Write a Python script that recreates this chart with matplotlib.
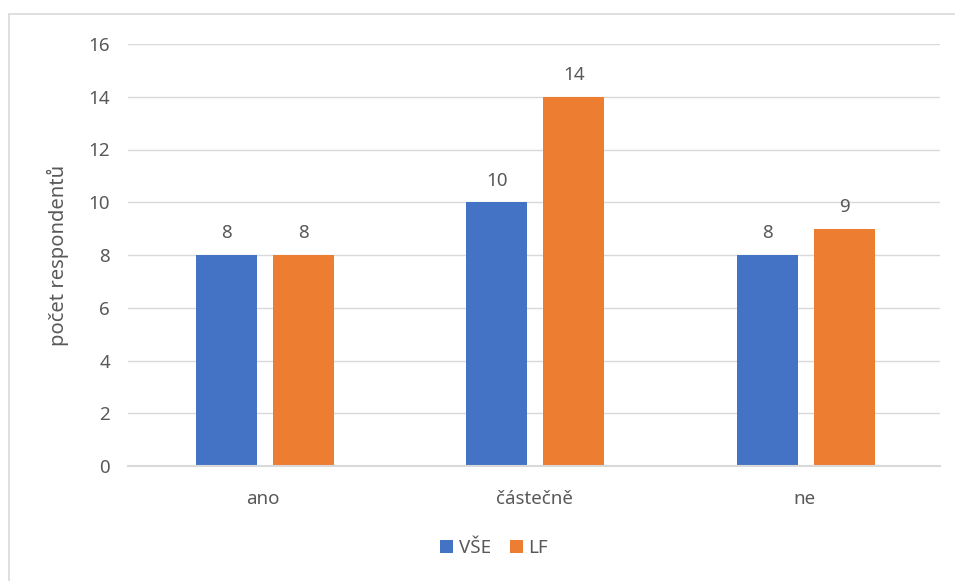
import matplotlib

matplotlib.use("Agg")
import matplotlib.pyplot as plt
import numpy as np
from matplotlib.patches import Rectangle

categories = ["ano", "částečně", "ne"]
series_names = ["VŠE", "LF"]
vse_values = [8, 10, 8]
lf_values = [8, 14, 9]
y_ticks = [0, 2, 4, 6, 8, 10, 12, 14, 16]

BLUE = "#4472C4"
ORANGE = "#ED7D31"
TEXT = "#595959"
GRID = "#D9D9D9"
FS = 13.5

plt.rcParams["font.family"] = ["Noto Sans", "DejaVu Sans"]

fig = plt.figure(figsize=(9.55, 5.81), dpi=100)
fig.patches.append(
    Rectangle((9 / 955, -0.05), 1.1, 1 - 14 / 581 + 0.05, transform=fig.transFigure,
              fill=False, edgecolor="#D9D9D9", linewidth=1.2, zorder=0)
)
ax = fig.add_axes([128 / 955, 115 / 581, 812 / 955, 422 / 581])

x = np.arange(len(categories))
offset = 0.142
width = 0.225
bars_vse = ax.bar(x - offset + 0.005, vse_values, width, color=BLUE, label=series_names[0], zorder=3)
bars_lf = ax.bar(x + offset + 0.005, lf_values, width, color=ORANGE, label=series_names[1], zorder=3)

for bars in (bars_vse, bars_lf):
    for bar in bars:
        h = bar.get_height()
        ax.annotate(f"{h:g}", (bar.get_x() + bar.get_width() / 2, h),
                    xytext=(0, 9), textcoords="offset points",
                    ha="center", va="bottom", fontsize=FS, color=TEXT)

ax.set_xlim(-0.5, len(categories) - 0.5)
ax.set_ylim(0, 16)
ax.set_yticks(y_ticks)
ax.set_xticks(x)
ax.set_xticklabels(categories)
ax.tick_params(axis="both", length=0, labelsize=FS, labelcolor=TEXT)
ax.tick_params(axis="x", pad=17)
ax.tick_params(axis="y", pad=13)
ax.grid(axis="y", color=GRID, linewidth=1, zorder=0)
for side in ("top", "right", "left"):
    ax.spines[side].set_visible(False)
ax.spines["bottom"].set_color(GRID)
ax.spines["bottom"].set_linewidth(1.5)
ax.spines["bottom"].set_zorder(4)

ax.set_ylabel("počet respondentů", fontsize=14.5, color=TEXT, labelpad=14)

fig.legend(loc="center", bbox_to_anchor=(494 / 955, 1 - 548 / 581), ncol=2,
           frameon=False, fontsize=FS, labelcolor=TEXT, handlelength=0.7,
           handleheight=0.7, handletextpad=0.3, columnspacing=1.0)

fig.savefig("out.png", dpi=100)
